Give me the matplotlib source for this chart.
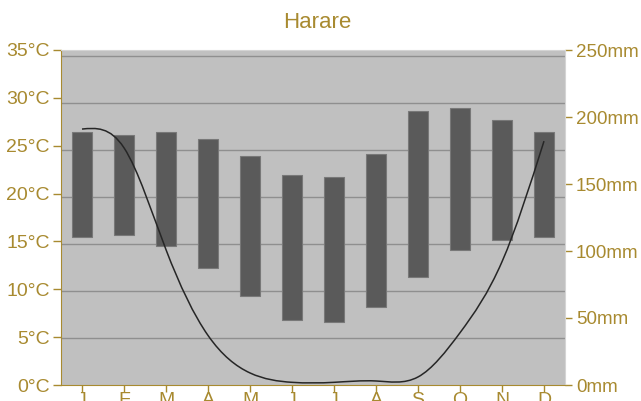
import numpy as np
import matplotlib
matplotlib.use("Agg")
import matplotlib.pyplot as plt
from matplotlib.path import Path
from matplotlib.patches import PathPatch

months = ["J", "F", "M", "A", "M", "J", "J", "A", "S", "O", "N", "D"]
temp_min = [15.5, 15.7, 14.5, 12.2, 9.3, 6.8, 6.6, 8.1, 11.3, 14.1, 15.2, 15.5]
temp_max = [26.4, 26.1, 26.4, 25.7, 23.9, 21.9, 21.7, 24.1, 28.6, 28.9, 27.7, 26.4]
precip = [191, 177, 101, 37, 9, 2, 2, 3, 6, 39, 92, 182]

GOLD = "#a88a30"
GRID_STEP = 4.915


def spline_path(ys):
    # natural cubic spline through the points, drawn as bezier segments
    y = np.asarray(ys, dtype=float)
    n = len(y)
    A = np.zeros((n, n))
    b = np.zeros(n)
    A[0, 0], A[0, 1] = 2, 1
    b[0] = 3 * (y[1] - y[0])
    A[-1, -2], A[-1, -1] = 1, 2
    b[-1] = 3 * (y[-1] - y[-2])
    for i in range(1, n - 1):
        A[i, i - 1], A[i, i], A[i, i + 1] = 1, 4, 1
        b[i] = 3 * (y[i + 1] - y[i - 1])
    m = np.linalg.solve(A, b)
    verts = [(0, y[0])]
    codes = [Path.MOVETO]
    for i in range(n - 1):
        verts += [(i + 1 / 3, y[i] + m[i] / 3),
                  (i + 1 - 1 / 3, y[i + 1] - m[i + 1] / 3),
                  (i + 1, y[i + 1])]
        codes += [Path.CURVE4] * 3
    return Path(verts, codes)


plt.rcParams["font.family"] = ["Liberation Sans", "DejaVu Sans"]

fig = plt.figure(figsize=(6.41, 4.01), dpi=100)
ax = fig.add_axes([61 / 641, 16 / 401, 504 / 641, 335 / 401])
ax2 = ax.twinx()

x = np.arange(len(months))
ax.set_facecolor("#c0c0c0")
for k in range(1, 8):
    ax.axhline(k * GRID_STEP, color="#8f8f8f", lw=1, zorder=0.5)

heights = np.array(temp_max) - np.array(temp_min)
ax.bar(x, heights, bottom=temp_min, width=0.47, color="#5a5a5a",
       edgecolor="#787878", linewidth=0.8, zorder=2)

ax.set_xlim(-0.5, 11.5)
ax.set_ylim(0, 35)
ax.set_yticks(range(0, 36, 5))
ax.set_yticklabels([f"{v}°C" for v in range(0, 36, 5)])
ax.set_xticks(x)
ax.set_xticklabels(months)

ax2.set_ylim(0, 250)
ax2.set_yticks(range(0, 251, 50))
ax2.set_yticklabels([f"{v}mm" for v in range(0, 251, 50)])
ax2.add_patch(PathPatch(spline_path(precip), facecolor="none",
                        edgecolor="#262626", lw=1.1, zorder=3))

for s in ["top", "right", "left", "bottom"]:
    ax.spines[s].set_visible(False)
    ax2.spines[s].set_visible(False)
ax2.spines["left"].set_visible(True)
ax2.spines["left"].set_color(GOLD)
ax2.spines["bottom"].set_visible(True)
ax2.spines["bottom"].set_color(GOLD)
ax2.spines["right"].set_visible(True)
ax2.spines["right"].set_color("#d4d4d4")
ax2.spines["top"].set_visible(True)
ax2.spines["top"].set_color("#d4d4d4")

ax.tick_params(axis="y", colors=GOLD, labelsize=14, length=6, width=1, pad=2)
ax.tick_params(axis="x", colors=GOLD, labelsize=14, length=5, width=1, pad=0)
ax2.tick_params(axis="y", colors=GOLD, labelsize=13.5, length=5, width=1, pad=3)

fig.text(0.495, 1 - 23 / 401, "Harare", color=GOLD, fontsize=16,
         ha="center", va="center")

fig.savefig("out.png", dpi=100)
